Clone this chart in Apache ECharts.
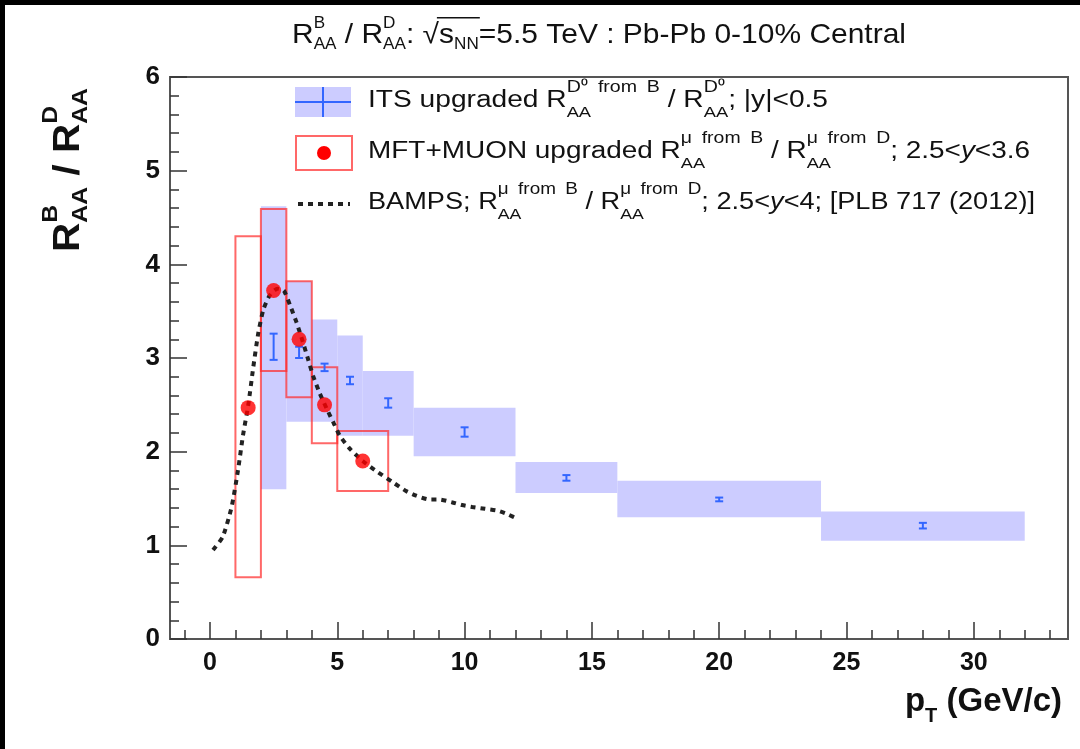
<!DOCTYPE html>
<html>
<head>
<meta charset="utf-8">
<script src="https://cdn.jsdelivr.net/npm/echarts@6/dist/echarts.min.js"></script>
<style>
  html, body { margin: 0; padding: 0; background: #fff; }
  #chart { width: 1080px; height: 749px; }
</style>
</head>
<body>
<div id="chart"></div>
<script>
// ---- data ----
// ITS upgraded (blue): bins, central values, stat errors, systematic boxes
const itsX      = [2.5, 3.5, 4.5, 5.5, 7, 10, 14, 20, 28];
const itsY      = [3.12, 3.06, 2.9, 2.76, 2.52, 2.21, 1.72, 1.49, 1.21];
const itsErr    = [0.14, 0.06, 0.04, 0.04, 0.05, 0.05, 0.03, 0.02, 0.03];
const itsBinLo  = [2, 3, 4, 5, 6, 8, 12, 16, 24];
const itsBinHi  = [3, 4, 5, 6, 8, 12, 16, 24, 32];
const itsSysLo  = [1.6, 2.32, 2.32, 2.17, 2.17, 1.95, 1.56, 1.30, 1.05];
const itsSysHi  = [4.62, 3.82, 3.41, 3.24, 2.86, 2.47, 1.89, 1.69, 1.36];

// MFT+MUON upgraded (red)
const mftX      = [1.5, 2.5, 3.5, 4.5, 6];
const mftY      = [2.47, 3.72, 3.2, 2.5, 1.9];
const mftBinLo  = [1, 2, 3, 4, 5];
const mftBinHi  = [2, 3, 4, 5, 7];
const mftSysLo  = [0.66, 2.86, 2.58, 2.09, 1.58];
const mftSysHi  = [4.30, 4.59, 3.82, 2.90, 2.22];

// BAMPS curve
const bampsX = [0.12, 0.5, 0.85, 1.1, 1.3, 1.5, 1.7, 1.9, 2.1, 2.35, 2.65, 2.9, 3.15, 3.4, 3.65, 3.85,
                4.05, 4.3, 4.6, 4.85, 5.1, 5.5, 6.0, 6.6, 7.2, 7.7, 8.1, 8.6, 9.0, 9.5, 9.9, 10.3,
                10.8, 11.3, 11.7, 12.1];
const bampsY = [0.95, 1.09, 1.41, 1.8, 2.18, 2.49, 2.9, 3.27, 3.52, 3.67, 3.74, 3.72, 3.56, 3.38, 3.17, 2.99,
                2.81, 2.63, 2.45, 2.31, 2.17, 2.03, 1.9, 1.78, 1.67, 1.58, 1.53, 1.49, 1.49, 1.46, 1.43, 1.41,
                1.39, 1.37, 1.33, 1.28];

// axis ticks
const xMajorTicks = [0, 5, 10, 15, 20, 25, 30];
const xMinorTicks = [-1, 0, 1, 2, 3, 4, 5, 6, 7, 8, 9, 10, 11, 12, 13, 14, 15, 16, 17, 18, 19, 20,
                     21, 22, 23, 24, 25, 26, 27, 28, 29, 30, 31, 32, 33];
const yTickLabels = [0, 1, 2, 3, 4, 5, 6];

const FONT = '"Liberation Sans", Arial, Helvetica, sans-serif';
const BLUE_FILL = 'rgb(204,204,255)';
const BLUE_LINE = '#3366ff';
const RED_BOX = 'rgba(255,40,40,0.7)';

// text with stacked super/subscripts, built out of plain text pieces
const measureCtx = document.createElement('canvas').getContext('2d');
function textWidth(t, size, weight, italic) {
    measureCtx.font = (italic ? 'italic ' : '') + (weight || 'normal') + ' ' + size + 'px ' + FONT;
    return measureCtx.measureText(t).width;
}
function richLine(segs, o) {
    const els = [];
    let cx = 0;
    const piece = (t, x, y, size, italic) => ({
        type: 'text', x: x, y: y,
        style: {
            text: t, fontSize: size, fontFamily: FONT, fontWeight: o.weight || 'normal',
            fontStyle: italic ? 'italic' : 'normal', fill: o.color || '#111',
            align: 'left', verticalAlign: 'middle'
        }
    });
    // ROOT leaves wide gaps between words in scripts
    const wide = s => (o.wideScripts ? s.replace(/ /g, '\u2002') : s);
    segs.forEach(sg => {
        const start = cx;
        if (sg.t) {
            els.push(piece(sg.t, cx, 0, o.size, sg.italic));
            cx += textWidth(sg.t, o.size, o.weight, sg.italic);
        }
        let adv = 0;
        if (sg.sup) {
            const s = wide(sg.sup);
            els.push(piece(s, cx, o.supDy, o.supSize));
            adv = Math.max(adv, textWidth(s, o.supSize, o.weight));
        }
        if (sg.sub) {
            els.push(piece(sg.sub, cx, o.subDy, o.subSize));
            adv = Math.max(adv, textWidth(sg.sub, o.subSize, o.weight));
        }
        cx += adv;
        if (sg.over) {
            els.push({
                type: 'line',
                shape: { x1: start - 2, y1: -o.size * 0.62, x2: cx + 1, y2: -o.size * 0.62 },
                style: { stroke: o.color || '#111', lineWidth: 1.5 }
            });
        }
    });
    const sx = o.width ? o.width / cx : 1;
    let shift = 0;
    if (o.align === 'center') shift = -cx / 2;
    if (o.align === 'right') shift = -cx;
    els.forEach(e => { e.x = (e.x || 0) + shift; });
    return { type: 'group', x: o.x, y: o.y, rotation: o.rotation || 0, scaleX: sx, children: els };
}

const chart = echarts.init(document.getElementById('chart'));

const boxData = (lo, hi, ylo, yhi) => lo.map((v, i) => [v, hi[i], ylo[i], yhi[i]]);

function boxRenderer(fill, stroke) {
    return function (params, api) {
        const p0 = api.coord([api.value(0), api.value(3)]);
        const p1 = api.coord([api.value(1), api.value(2)]);
        return {
            type: 'rect',
            shape: { x: p0[0], y: p0[1], width: p1[0] - p0[0], height: p1[1] - p0[1] },
            style: { fill: fill, stroke: stroke, lineWidth: stroke === 'none' ? 0 : 2 }
        };
    };
}

const legendOpt = { size: 23, supSize: 16, subSize: 15, supDy: -13, subDy: 12, wideScripts: true };

const option = {
    animation: false,
    backgroundColor: '#ffffff',
    grid: {
        left: 170, right: 12, top: 77, bottom: 110,
        show: true, borderColor: '#555', borderWidth: 2, backgroundColor: '#fff'
    },
    xAxis: [{
        type: 'value', min: -1.57, max: 33.7, position: 'bottom',
        axisLine: { show: false, onZero: false },
        splitLine: { show: false },
        axisTick: { inside: true, length: 17, customValues: xMajorTicks, lineStyle: { color: '#333', width: 1.5 } },
        axisLabel: {
            customValues: xMajorTicks, margin: 12,
            fontSize: 25, fontWeight: 'bold', fontFamily: FONT, color: '#111'
        }
    }, {
        type: 'value', min: -1.57, max: 33.7, position: 'bottom', offset: 0,
        axisLine: { show: false, onZero: false },
        splitLine: { show: false },
        axisTick: { inside: true, length: 9, customValues: xMinorTicks, lineStyle: { color: '#333', width: 1.5 } },
        axisLabel: { show: false }
    }],
    yAxis: {
        type: 'value', min: 0, max: 6, interval: 1, position: 'left',
        axisLine: { show: false, onZero: false },
        splitLine: { show: false },
        axisTick: { inside: true, length: 17, lineStyle: { color: '#333', width: 1.5 } },
        minorTick: { show: true, splitNumber: 5, length: 9, lineStyle: { color: '#333', width: 1.5 } },
        axisLabel: {
            margin: 10, fontSize: 26, fontWeight: 'bold', fontFamily: FONT, color: '#111',
            formatter: v => (yTickLabels.indexOf(v) >= 0 ? String(v) : '')
        }
    },
    series: [
        {
            name: 'ITS sys', type: 'custom', z: 2,
            renderItem: boxRenderer(BLUE_FILL, 'none'),
            encode: { x: [0, 1], y: [2, 3] },
            data: boxData(itsBinLo, itsBinHi, itsSysLo, itsSysHi)
        },
        {
            name: 'MFT sys', type: 'custom', z: 3,
            renderItem: boxRenderer('none', RED_BOX),
            encode: { x: [0, 1], y: [2, 3] },
            data: boxData(mftBinLo, mftBinHi, mftSysLo, mftSysHi)
        },
        {
            name: 'BAMPS', type: 'line', z: 4,
            showSymbol: false, smooth: 0.2,
            lineStyle: { color: '#222', width: 4, type: [5, 5] },
            data: bampsX.map((x, i) => [x, bampsY[i]])
        },
        {
            name: 'ITS', type: 'custom', z: 5,
            renderItem: function (params, api) {
                const x = api.value(0);
                const pl = api.coord([x, api.value(1)]);
                const ph = api.coord([x, api.value(2)]);
                const c = 4;
                const st = { stroke: BLUE_LINE, lineWidth: 2 };
                return {
                    type: 'group', children: [
                        { type: 'line', shape: { x1: pl[0], y1: pl[1], x2: ph[0], y2: ph[1] }, style: st },
                        { type: 'line', shape: { x1: pl[0] - c, y1: pl[1], x2: pl[0] + c, y2: pl[1] }, style: st },
                        { type: 'line', shape: { x1: ph[0] - c, y1: ph[1], x2: ph[0] + c, y2: ph[1] }, style: st }
                    ]
                };
            },
            encode: { x: 0, y: [1, 2] },
            data: itsX.map((x, i) => [x, itsY[i] - itsErr[i], itsY[i] + itsErr[i]])
        },
        {
            name: 'MFT', type: 'scatter', z: 6,
            symbol: 'circle', symbolSize: 15,
            itemStyle: { color: '#ff0000' },
            data: mftX.map((x, i) => [x, mftY[i]])
        }
    ],
    graphic: [
        { type: 'rect', shape: { x: 0, y: 0, width: 1080, height: 5 }, style: { fill: '#000' }, z: 100 },
        { type: 'rect', shape: { x: 0, y: 0, width: 5, height: 749 }, style: { fill: '#000' }, z: 100 },

        // title
        richLine([
            { t: 'R', sup: 'B', sub: 'AA' },
            { t: ' / R', sup: 'D', sub: 'AA' },
            { t: ': √' },
            { t: 's', sub: 'NN', over: true },
            { t: '=5.5 TeV : Pb-Pb 0-10% Central' }
        ], { x: 599, y: 35, size: 28, supSize: 16, subSize: 16, supDy: -11, subDy: 10,
             align: 'center', width: 614 }),

        // axis names
        richLine([
            { t: 'R', sup: 'B', sub: 'AA' },
            { t: ' / R', sup: 'D', sub: 'AA' }
        ], { x: 69, y: 252, size: 36, supSize: 22, subSize: 22, supDy: -18, subDy: 12,
             weight: 'bold', rotation: Math.PI / 2, width: 164 }),
        richLine([
            { t: 'p', sub: 'T' },
            { t: ' (GeV/c)' }
        ], { x: 1062, y: 702, size: 33, supSize: 20, subSize: 20, supDy: -14, subDy: 14,
             weight: 'bold', align: 'right' }),

        // legend
        { type: 'rect', shape: { x: 295, y: 87, width: 56, height: 30 }, style: { fill: BLUE_FILL } },
        { type: 'line', shape: { x1: 295, y1: 102, x2: 351, y2: 102 }, style: { stroke: BLUE_LINE, lineWidth: 2 } },
        { type: 'line', shape: { x1: 323, y1: 87, x2: 323, y2: 117 }, style: { stroke: BLUE_LINE, lineWidth: 2 } },
        richLine([
            { t: 'ITS upgraded R', sup: 'D⁰ from B', sub: 'AA' },
            { t: ' / R', sup: 'D⁰', sub: 'AA' },
            { t: '; |y|<0.5' }
        ], Object.assign({ x: 368, y: 101, width: 460 }, legendOpt)),

        { type: 'rect', shape: { x: 296, y: 136, width: 56, height: 34 }, style: { fill: '#fff', stroke: RED_BOX, lineWidth: 2 } },
        { type: 'circle', shape: { cx: 324, cy: 153, r: 7 }, style: { fill: '#ff0000' } },
        richLine([
            { t: 'MFT+MUON upgraded R', sup: 'μ from B', sub: 'AA' },
            { t: ' / R', sup: 'μ from D', sub: 'AA' },
            { t: '; 2.5<' }, { t: 'y', italic: true }, { t: '<3.6' }
        ], Object.assign({ x: 368, y: 152, width: 662 }, legendOpt)),

        { type: 'line', shape: { x1: 298, y1: 204, x2: 350, y2: 204 }, style: { stroke: '#222', lineWidth: 4, lineDash: [5, 5] } },
        richLine([
            { t: 'BAMPS; R', sup: 'μ from B', sub: 'AA' },
            { t: ' / R', sup: 'μ from D', sub: 'AA' },
            { t: '; 2.5<' }, { t: 'y', italic: true }, { t: '<4; [PLB 717 (2012)]' }
        ], Object.assign({ x: 368, y: 203, width: 667 }, legendOpt))
    ]
};

chart.setOption(option);
</script>
</body>
</html>
